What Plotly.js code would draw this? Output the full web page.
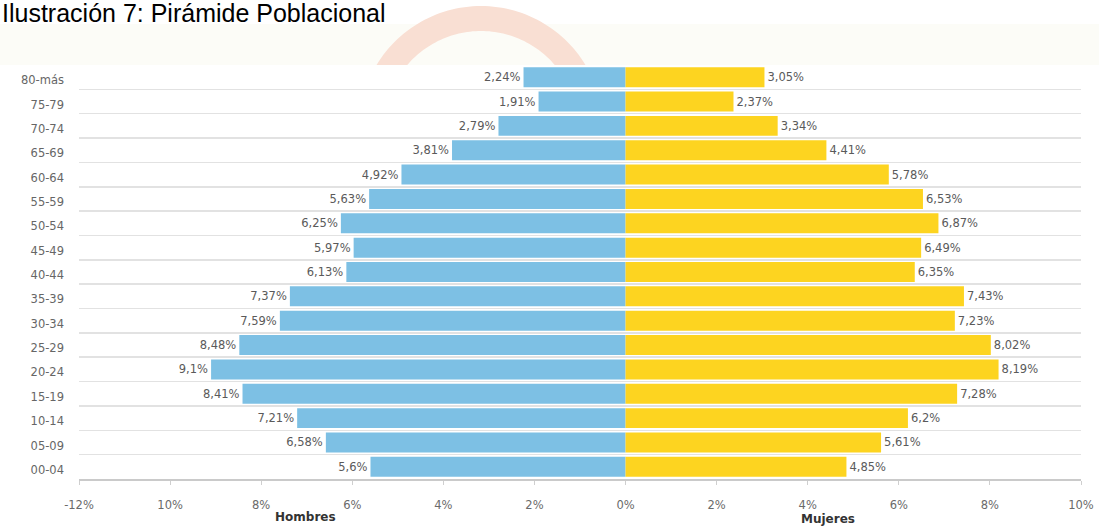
<!DOCTYPE html>
<html>
<head>
<meta charset="utf-8">
<script src="https://cdn.plot.ly/plotly-3.0.1.min.js"></script>
<style>html,body{margin:0;padding:0;background:#fff;}#chart{width:1099px;height:527px;}</style>
</head>
<body>
<div id="chart"></div>
<script>
// Age groups, top to bottom as in the picture
var ageGroups = ["80-más","75-79","70-74","65-69","60-64","55-59","50-54","45-49","40-44","35-39","30-34","25-29","20-24","15-19","10-14","05-09","00-04"];
// Percentages (Hombres on the left, Mujeres on the right)
var hombres = [2.24,1.91,2.79,3.81,4.92,5.63,6.25,5.97,6.13,7.37,7.59,8.48,9.1,8.41,7.21,6.58,5.6];
var mujeres = [3.05,2.37,3.34,4.41,5.78,6.53,6.87,6.49,6.35,7.43,7.23,8.02,8.19,7.28,6.2,5.61,4.85];
// X tick positions and labels
var xTickVals = [-12,-10,-8,-6,-4,-2,0,2,4,6,8,10];
var xTickText = ["-12%","10%","8%","6%","4%","2%","0%","2%","4%","6%","8%","10%"];
var titleText = "Ilustración 7: Pirámide Poblacional";
var labelHombres = "Hombres";
var labelMujeres = "Mujeres";

function fmt(v){ return String(v).replace('.', ',') + '%'; }

var W = 1099, H = 527, ml = 79, mr = 18, mt = 65, mb = 48;
var pw = W - ml - mr, ph = H - mt - mb;
function px(x){ return (x - ml) / pw; }
function py(y){ return (H - mb - y) / ph; }

// decorative watermark arc (above plot area only)
function arcPath(){
  var cx = 481, cy = 128, ro = 122, ri = 97, yc = mt;
  var a0 = Math.asin((cy - yc) / ro), a1 = Math.asin((cy - yc) / ri);
  var pts = [], n = 60, i, t;
  for (i = 0; i <= n; i++) { t = (Math.PI - a0) - (Math.PI - 2*a0) * i / n; pts.push([cx + ro*Math.cos(t), cy - ro*Math.sin(t)]); }
  for (i = 0; i <= n; i++) { t = a1 + (Math.PI - 2*a1) * i / n; pts.push([cx + ri*Math.cos(t), cy - ri*Math.sin(t)]); }
  return pts.map(function(p, k){ return (k ? 'L' : 'M') + px(p[0]).toFixed(5) + ',' + py(p[1]).toFixed(5); }).join(' ') + ' Z';
}

var font = "DejaVu Sans, Verdana, sans-serif";

var traces = [
  {
    type: 'bar', orientation: 'h', y: ageGroups,
    x: hombres.map(function(v){ return -v; }),
    text: hombres.map(fmt), textposition: 'outside', cliponaxis: false, constraintext: 'none',
    textfont: {family: font, size: 11.5, color: '#5a5a5a'},
    marker: {color: '#7DC0E4'}, name: labelHombres, hoverinfo: 'none'
  },
  {
    type: 'bar', orientation: 'h', y: ageGroups, x: mujeres,
    text: mujeres.map(fmt), textposition: 'outside', cliponaxis: false, constraintext: 'none',
    textfont: {family: font, size: 11.5, color: '#5a5a5a'},
    marker: {color: '#FDD420'}, name: labelMujeres, hoverinfo: 'none'
  }
];

var layout = {
  width: W, height: H,
  margin: {l: ml, r: mr, t: mt, b: mb, pad: 0},
  paper_bgcolor: '#ffffff', plot_bgcolor: '#ffffff',
  showlegend: false, barmode: 'relative', bargap: 0.18,
  xaxis: {
    range: [-12, 10], tickmode: 'array', tickvals: xTickVals, ticktext: xTickText,
    showgrid: false, zeroline: false, showline: true, linecolor: '#cacaca', linewidth: 2,
    ticks: 'outside', ticklen: 4, tickcolor: '#cfcfcf', tickwidth: 1,
    ticklabelstandoff: 10,
    tickfont: {family: font, size: 11.5, color: '#6a6a6a'}, fixedrange: true
  },
  yaxis: {
    type: 'category', categoryorder: 'array', categoryarray: ageGroups, autorange: 'reversed',
    tickson: 'boundaries', showgrid: true, gridcolor: '#e2e2e2', gridwidth: 1.5,
    ticks: '', zeroline: false, showline: false, ticklabelstandoff: 14, ticklabelshift: -3,
    tickfont: {family: font, size: 11.5, color: '#666666'}, fixedrange: true
  },
  shapes: [
    {type: 'rect', xref: 'paper', yref: 'paper', x0: px(0), x1: px(W), y0: py(mt), y1: py(24),
     fillcolor: '#fcfcf7', line: {width: 0}, layer: 'below'},
    {type: 'path', xref: 'paper', yref: 'paper', path: arcPath(),
     fillcolor: '#f9dfd3', line: {width: 0}, layer: 'below'}
  ],
  annotations: [
    {text: titleText, xref: 'paper', yref: 'paper', x: px(0), y: py(13), xanchor: 'left', yanchor: 'middle',
     showarrow: false, font: {family: 'Liberation Sans, Arial, sans-serif', size: 25, color: '#000000'}},
    {text: '<b>' + labelHombres + '</b>', xref: 'paper', yref: 'paper', x: px(305), y: py(517), xanchor: 'center', yanchor: 'middle',
     showarrow: false, font: {family: font, size: 12, color: '#333333'}},
    {text: '<b>' + labelMujeres + '</b>', xref: 'paper', yref: 'paper', x: px(828), y: py(519), xanchor: 'center', yanchor: 'middle',
     showarrow: false, font: {family: font, size: 12, color: '#333333'}}
  ]
};

Plotly.newPlot('chart', traces, layout, {displayModeBar: false, staticPlot: true});
</script>
</body>
</html>
